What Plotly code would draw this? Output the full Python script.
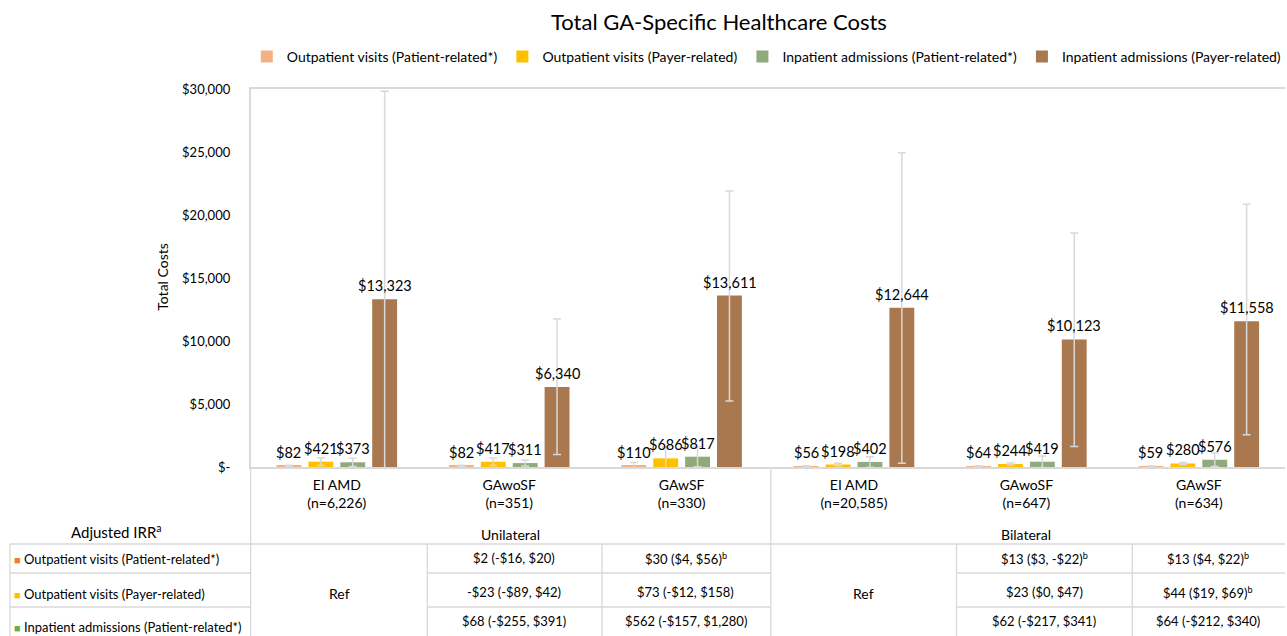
import plotly.graph_objects as go

W, H = 1287, 636
FONT = "Lato"

categories = ["EI AMD<br>(n=6,226)", "GAwoSF<br>(n=351)", "GAwSF<br>(n=330)",
              "EI AMD<br>(n=20,585)", "GAwoSF<br>(n=647)", "GAwSF<br>(n=634)"]
series_names = ["Outpatient visits (Patient-related*)", "Outpatient visits (Payer-related)",
                "Inpatient admissions (Patient-related*)", "Inpatient admissions (Payer-related)"]
out_patient = [82, 82, 110, 56, 64, 59]
out_payer = [421, 417, 686, 198, 244, 280]
inp_patient = [373, 311, 817, 402, 419, 576]
inp_payer = [13323, 6340, 13611, 12644, 10123, 11558]

out_patient_err_plus = [50, 50, 250, 40, 40, 40]
out_patient_err_minus = [50, 50, 250, 40, 40, 40]
out_payer_err_plus = [300, 300, 900, 100, 80, 80]
out_payer_err_minus = [300, 300, 850, 100, 80, 80]
inp_patient_err_plus = [330, 240, 800, 420, 450, 530]
inp_patient_err_minus = [330, 240, 800, 420, 450, 530]
inp_payer_err_plus = [16500, 5400, 8300, 12300, 8450, 9300]
inp_payer_err_minus = [16550, 5350, 8370, 12350, 8500, 9000]

ytick_vals = [0, 5000, 10000, 15000, 20000, 25000, 30000]
ytick_text = ["$-", "$5,000", "$10,000", "$15,000", "$20,000", "$25,000", "$30,000"]

group_labels = ["Unilateral", "Bilateral"]
row_labels = ["Outpatient visits (Patient-related*)", "Outpatient visits (Payer-related)",
              "Inpatient admissions (Patient-related*)"]
uni_gawosf = ["$2 (-$16, $20)", "-$23 (-$89, $42)", "$68 (-$255, $391)"]
uni_gawsf = ["$30 ($4, $56)<sup>b</sup>", "$73 (-$12, $158)", "$562 (-$157, $1,280)"]
bi_gawosf = ["$13 ($3, -$22)<sup>b</sup>", "$23 ($0, $47)", "$62 (-$217, $341)"]
bi_gawsf = ["$13 ($4, $22)<sup>b</sup>", "$44 ($19, $69)<sup>b</sup>", "$64 (-$212, $340)"]

bar_colors = ["#F4B183", "#FFC000", "#8FAA7B", "#A9784F"]
marker_colors = ["#ED7D31", "#FFC000", "#70AD47"]
LINE = "#D9D9D9"

PLOT_L, PLOT_R, PLOT_T, PLOT_B = 251, 1287, 89, 467
BARGAP = 0.26

def px(x):
    return x / W

def py(y):
    return 1 - y / H

fig = go.Figure()
data = [out_patient, out_payer, inp_patient, inp_payer]
errp = [out_patient_err_plus, out_payer_err_plus, inp_patient_err_plus, inp_payer_err_plus]
errm = [out_patient_err_minus, out_payer_err_minus, inp_patient_err_minus, inp_payer_err_minus]
for name, vals, ep, em, col in zip(series_names, data, errp, errm, bar_colors):
    fig.add_trace(go.Bar(
        x=categories, y=vals, name=name,
        marker=dict(color=col, line=dict(width=0)),
        error_y=dict(type="data", array=ep, arrayminus=em, symmetric=False,
                     color=LINE, thickness=1.5, width=4),
    ))

fig.update_layout(
    width=W, height=H, autosize=False,
    margin=dict(l=0, r=0, t=0, b=0, pad=0),
    paper_bgcolor="white", plot_bgcolor="white",
    font=dict(family=FONT, color="#000000"),
    barmode="group", bargap=BARGAP, bargroupgap=0.22,
    showlegend=True,
    legend=dict(orientation="h", x=px(768), xanchor="center", y=py(57), yanchor="middle",
                font=dict(family=FONT, size=14), traceorder="normal"),
    xaxis=dict(domain=[px(PLOT_L), px(PLOT_R)], type="category", showline=True, mirror=True,
               linecolor=LINE, linewidth=1.5, ticks="outside", ticklen=4,
               tickcolor="rgba(0,0,0,0)", tickfont=dict(family=FONT, size=14),
               showgrid=False, automargin=False),
    yaxis=dict(domain=[py(PLOT_B), py(PLOT_T)], range=[0, 30000], tickvals=ytick_vals,
               ticktext=ytick_text, showline=True, linecolor=LINE, linewidth=1.5,
               showgrid=False, zeroline=False, ticks="outside", ticklen=16,
               tickcolor="rgba(0,0,0,0)", tickfont=dict(family=FONT, size=13), automargin=False),
)

annotations = [
    dict(text="Total GA-Specific Healthcare Costs", x=px(720), y=py(21), xref="paper", yref="paper",
         showarrow=False, font=dict(family=FONT, size=22), xanchor="center", yanchor="middle"),
    dict(text="Total Costs", x=px(162), y=py(277), xref="paper", yref="paper", textangle=-90,
         showarrow=False, font=dict(family=FONT, size=14), xanchor="center", yanchor="middle"),
    dict(text="Adjusted IRR<sup>a</sup>", x=px(117), y=py(531), xref="paper", yref="paper",
         showarrow=False, font=dict(family=FONT, size=15), xanchor="center", yanchor="middle"),
    dict(text=group_labels[0], x=px(511), y=py(534), xref="paper", yref="paper",
         showarrow=False, font=dict(family=FONT, size=14), xanchor="center", yanchor="middle"),
    dict(text=group_labels[1], x=px(1028), y=py(534), xref="paper", yref="paper",
         showarrow=False, font=dict(family=FONT, size=14), xanchor="center", yanchor="middle"),
    dict(text="Ref", x=px(340), y=py(593), xref="paper", yref="paper",
         showarrow=False, font=dict(family=FONT, size=14), xanchor="center", yanchor="middle"),
    dict(text="Ref", x=px(865), y=py(593), xref="paper", yref="paper",
         showarrow=False, font=dict(family=FONT, size=14), xanchor="center", yanchor="middle"),
]

# data labels placed through the axes (category + value), drawn above error bars
group_px = (PLOT_R - PLOT_L) / len(categories)
pitch = group_px * (1 - BARGAP) / len(data)
for i, vals in enumerate(data):
    shift = (i - (len(data) - 1) / 2) * pitch
    for cat, v in zip(categories, vals):
        annotations.append(dict(text=f"${v:,}", x=cat, y=v, xref="x", yref="y",
                                xshift=shift, yshift=3, showarrow=False,
                                font=dict(family=FONT, size=14.5, color="#000000"),
                                xanchor="center", yanchor="bottom"))

row_y = [559, 594, 627]
for lbl, col, yy in zip(row_labels, marker_colors, row_y):
    annotations.append(dict(text=f"<span style='color:{col};font-size:11px'>■</span> {lbl}",
                            x=px(12), y=py(yy), xref="paper", yref="paper", showarrow=False,
                            font=dict(family=FONT, size=13), xanchor="left", yanchor="middle"))
for col_vals, cx in zip([uni_gawosf, uni_gawsf, bi_gawosf, bi_gawsf], [515, 687, 1046, 1210]):
    for txt, yy in zip(col_vals, [558, 592, 621]):
        annotations.append(dict(text=txt, x=px(cx), y=py(yy), xref="paper", yref="paper",
                                showarrow=False, font=dict(family=FONT, size=13),
                                xanchor="center", yanchor="middle"))
fig.update_layout(annotations=annotations)

shapes = []
def line(x0, y0, x1, y1):
    shapes.append(dict(type="line", xref="paper", yref="paper", x0=px(x0), y0=py(y0),
                       x1=px(x1), y1=py(y1), line=dict(color=LINE, width=1.3)))
line(251, 467, 251, 636)
line(772, 467, 772, 636)
line(10, 544, 1287, 544)
line(10, 544, 10, 636)
for xv in [428, 603, 958, 1134]:
    line(xv, 544, xv, 636)
for yv in [573, 607]:
    for a, b in [(10, 251), (428, 772), (958, 1287)]:
        line(a, yv, b, yv)
fig.update_layout(shapes=shapes)

fig.write_html("out.html", config={"displayModeBar": False},
               post_script="document.body.style.margin='0';document.body.style.overflow='hidden';")
